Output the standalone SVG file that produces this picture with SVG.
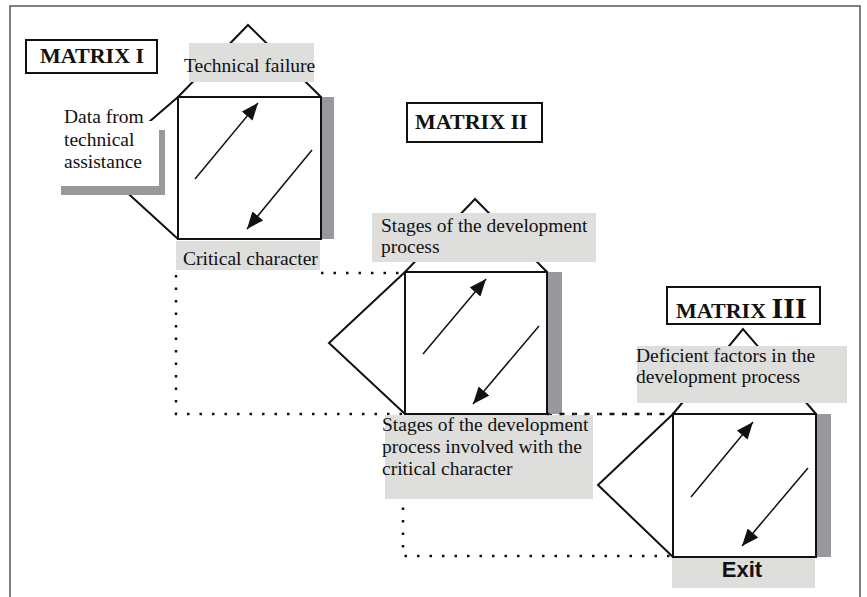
<svg xmlns="http://www.w3.org/2000/svg" width="867" height="597" viewBox="0 0 867 597">
<defs>
<style>
.frame{fill:none;stroke:#555;stroke-width:1.5}
.shape{fill:none;stroke:#111;stroke-width:2;stroke-linejoin:miter}
.sq{fill:#fff;stroke:#111;stroke-width:2}
.shadow{fill:#98999c}
.gbox{fill:#dededc}
.wbox{fill:#fff}
.lbox{fill:#fff;stroke:#111;stroke-width:2}
.arr{stroke:#111;stroke-width:1.5;fill:none;marker-end:url(#ah)}
.dot{fill:none;stroke:#111;stroke-width:2.5;stroke-dasharray:2.5 10}
.t{font-family:"Liberation Serif","Times New Roman",serif;font-size:19.5px;fill:#111}
.m{font-family:"Liberation Serif","Times New Roman",serif;font-size:22px;font-weight:bold;fill:#111}
.exit{font-family:"Liberation Sans",Arial,sans-serif;font-size:22px;font-weight:bold;fill:#111}
</style>
<marker id="ah" markerUnits="userSpaceOnUse" markerWidth="18" markerHeight="14" refX="17" refY="7" orient="auto">
<path d="M0,0 L17,7 L0,14 Z" fill="#111"/>
</marker>
</defs>
<rect width="867" height="597" fill="#fff"/>
<path class="frame" d="M10,597 V6 H860 V597"/>

<g id="connectors">
<path class="dot" d="M176,275 V414 H673"/>
<path class="dot" d="M321,273 H405"/>
<path class="dot" d="M403,495 V556 H673"/>
</g>

<g id="matrix1">
<path class="shape" d="M178,97 L248,25 L321,97"/>
<path class="shape" d="M178,97 L98,166 L178,239"/>
<rect class="shadow" x="321" y="97" width="13" height="142"/>
<rect class="sq" x="178" y="97" width="143" height="142"/>
<line class="arr" x1="195" y1="179" x2="258" y2="103"/>
<line class="arr" x1="312" y1="150" x2="247" y2="229"/>
</g>

<g id="matrix1-label">
<rect class="lbox" x="26" y="40" width="131" height="33"/>
<text class="m" x="40" y="63">MATRIX I</text>
</g>

<g id="technical-failure">
<rect class="gbox" x="189" y="43" width="125" height="39"/>
<text class="t" x="184" y="72">Technical failure</text>
</g>

<g id="data-from">
<rect class="shadow" x="61" y="130" width="104" height="65"/>
<rect class="wbox" x="55" y="121" width="104" height="65"/>
<text class="t" x="64" y="123">Data from</text>
<text class="t" x="64" y="146">technical</text>
<text class="t" x="64" y="168">assistance</text>
</g>

<g id="critical-character">
<rect class="gbox" x="176" y="241" width="144" height="29"/>
<text class="t" x="183" y="265">Critical character</text>
</g>

<g id="matrix2-label">
<rect class="lbox" x="407" y="103" width="135" height="39"/>
<text class="m" x="415" y="129">MATRIX II</text>
</g>

<g id="matrix2">
<path class="shape" d="M405,272 L475,199 L547,272"/>
<path class="shape" d="M405,272 L329,343 L405,414"/>
<rect class="shadow" x="547" y="272" width="15" height="142"/>
<rect class="sq" x="405" y="272" width="142" height="142"/>
<line class="arr" x1="423" y1="354" x2="486" y2="279"/>
<line class="arr" x1="539" y1="326" x2="473" y2="404"/>
</g>

<g id="stages">
<rect class="gbox" x="372" y="213" width="224" height="49"/>
<text class="t" x="381" y="232">Stages of the development</text>
<text class="t" x="381" y="253">process</text>
</g>

<g id="stages-involved">
<rect class="gbox" x="385" y="415" width="208" height="84"/>
<text class="t" x="382" y="431">Stages of the development</text>
<text class="t" x="382" y="453">process involved with the</text>
<text class="t" x="382" y="475">critical character</text>
</g>

<g id="matrix3-label">
<rect class="lbox" x="667" y="287" width="153" height="37"/>
<text class="m" x="676" y="318">MATRIX <tspan style="font-size:30px">III</tspan></text>
</g>

<g id="matrix3">
<path class="shape" d="M673,414 L743,329 L816,414"/>
<path class="shape" d="M673,414 L598,485 L673,557"/>
<rect class="shadow" x="816" y="414" width="15" height="143"/>
<rect class="sq" x="673" y="414" width="143" height="143"/>
<line class="arr" x1="691" y1="497" x2="753" y2="422"/>
<line class="arr" x1="808" y1="468" x2="742" y2="546"/>
</g>

<g id="deficient">
<rect class="gbox" x="637" y="346" width="210" height="57"/>
<text class="t" x="636" y="362">Deficient factors in the</text>
<text class="t" x="636" y="383">development process</text>
</g>

<g id="exit">
<rect class="gbox" x="672" y="558" width="143" height="30"/>
<text class="exit" x="742" y="577" text-anchor="middle">Exit</text>
</g>

<g id="overlay-connector">
<path class="dot" d="M547,414 H673"/>
</g>
</svg>
